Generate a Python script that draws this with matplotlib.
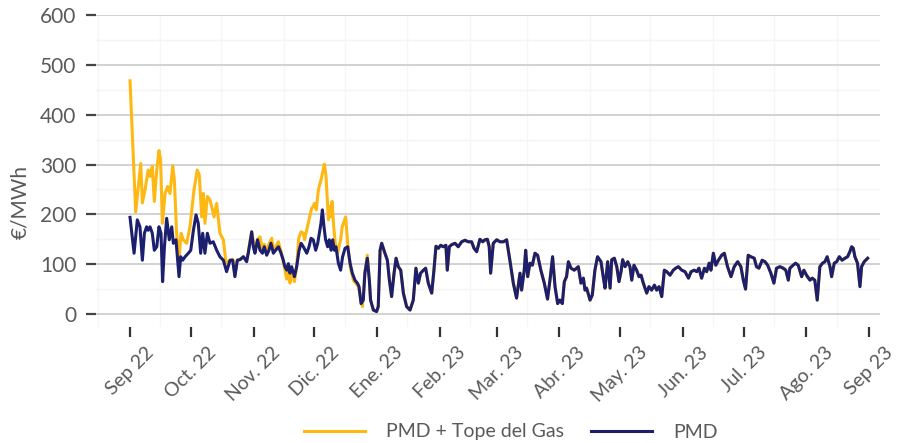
import matplotlib
matplotlib.use("Agg")
import matplotlib.pyplot as plt
import matplotlib.dates as mdates
import pandas as pd

# ---------------- data (days since 2022-09-01, €/MWh) ----------------
start_date = "2022-09-01"

pmd_days = [0, 2.0, 3.6, 4.9, 6.1, 7.1, 8.2, 9.0, 9.9, 11.0, 12.0, 13.2, 14.3, 15.3, 16.1, 17.0,
            18.1, 19.4, 20.6, 21.4, 22.7, 24.2, 25.0, 26.0, 27.2, 28.8, 30.0, 31.3, 32.6, 33.7,
            34.9, 35.9, 37.0, 38.2, 39.5, 41.1, 42.8, 44.4, 46.1, 47.7, 49.4, 50.7, 51.8, 53.0,
            54.3, 56.0, 57.6, 58.4, 60.1, 60.9, 61.7, 63.0, 64.2, 65.4, 66.3, 67.5, 68.6, 69.6,
            70.8, 71.9, 73.3, 74.6, 75.7, 76.5, 77.4, 78.2, 79.0, 79.8, 81.2, 82.3, 83.5, 84.5,
            85.6, 87.3, 88.4, 89.4, 90.5, 91.7, 92.7, 93.5, 94.3, 95.0, 95.8, 96.6, 97.6, 98.4,
            99.3, 100.1, 100.9, 101.7, 102.9, 104.0, 105.0, 106.2, 107.5, 108.7, 109.8, 111.1,
            112.3, 113.1, 114.1, 115.2, 116.0, 117.2, 118.2, 118.8, 120.2, 121.8, 122.6, 123.5,
            124.3, 125.9, 127.1, 128.1, 129.2, 130.4, 131.4, 132.5, 133.7, 135.0, 136.6, 138.3,
            139.9, 141.2, 142.4, 143.5, 144.9, 146.0, 147.3, 149.0, 150.1, 151.1, 152.3, 153.4,
            154.7, 156.0, 156.7, 157.7, 158.8, 160.5, 162.1, 163.8, 165.4, 167.1, 168.7, 169.9,
            171.2, 172.8, 174.2, 175.3, 176.5, 177.4, 178.1, 179.4, 181.1, 182.7, 184.4, 186.0,
            187.6, 189.3, 190.9, 192.6, 193.4, 194.7, 195.4, 196.4, 197.5, 198.7, 200.0, 201.3,
            202.9, 204.6, 206.2, 207.4, 208.7, 209.9, 211.2, 212.3, 213.5, 214.5, 215.6, 216.5,
            217.8, 219.4, 221.4, 222.7, 223.9, 224.7, 225.5, 227.2, 228.3, 229.6, 230.9, 232.6,
            233.7, 234.6, 235.9, 237.1, 237.9, 239.2, 240.4, 241.5, 242.5, 243.3, 244.5, 245.8,
            246.9, 247.8, 248.9, 250.2, 251.4, 252.4, 253.5, 255.2, 256.3, 257.6, 259.0, 260.1,
            261.3, 262.6, 263.9, 265.1, 266.7, 268.3, 269.5, 270.8, 272.5, 274.1, 275.8, 277.1,
            278.7, 279.9, 281.0, 282.3, 283.7, 284.8, 286.0, 286.9, 288.1, 289.3, 290.6, 292.2,
            293.5, 295.1, 296.8, 298.4, 300.1, 301.7, 302.9, 304.0, 305.3, 306.6, 308.3, 309.4,
            310.6, 312.2, 313.6, 314.9, 316.5, 318.0, 319.3, 321.0, 322.6, 323.9, 325.1, 325.9,
            327.5, 328.7, 330.0, 331.7, 332.8, 334.1, 335.8, 336.9, 338.2, 339.4, 340.7, 342.0,
            343.2, 344.3, 345.7, 346.5, 347.8, 349.0, 350.3, 351.7, 353.1, 354.4, 355.5, 356.4,
            357.2, 358.0, 359.3, 360.5, 361.3, 362.6, 364.3]
pmd_vals = [194, 122, 189, 175, 108, 162, 175, 168, 175, 162, 128, 135, 175, 162, 65, 135,
            192, 149, 175, 142, 149, 75, 115, 108, 115, 122, 128, 168, 199, 182,
            122, 162, 122, 162, 142, 145, 128, 115, 108, 85, 108, 108, 75, 108,
            109, 115, 105, 122, 165, 135, 122, 149, 128, 122, 135, 118, 128, 142,
            122, 128, 135, 122, 108, 95, 88, 101, 82, 95, 75, 95, 128, 142,
            135, 122, 135, 152, 149, 128, 142, 162, 182, 209, 175, 149, 135, 149,
            128, 149, 128, 135, 102, 88, 115, 132, 135, 102, 82, 68,
            62, 55, 21, 28, 82, 112, 68, 28, 8, 5, 15, 128,
            142, 122, 108, 68, 35, 82, 112, 95, 88, 42, 15, 8,
            28, 92, 62, 82, 88, 92, 62, 42, 88, 136, 132, 138,
            135, 138, 88, 135, 139, 142, 135, 145, 148, 145, 145, 132,
            125, 150, 145, 149, 150, 135, 82, 142, 149, 145, 145, 149,
            108, 62, 32, 82, 48, 88, 128, 75, 102, 98, 122, 118,
            88, 62, 30, 68, 115, 55, 21, 28, 21, 65, 75, 105,
            92, 88, 95, 62, 72, 48, 52, 28, 38, 88, 115, 105,
            75, 52, 105, 52, 109, 112, 95, 65, 85, 109, 95, 105,
            95, 68, 98, 88, 75, 78, 62, 42, 55, 48, 58, 48,
            55, 35, 88, 85, 78, 88, 92, 95, 88, 85, 72, 85,
            88, 85, 92, 72, 92, 85, 102, 88, 122, 98, 108, 118,
            122, 95, 75, 95, 105, 95, 68, 50, 118, 115, 112, 95,
            92, 108, 105, 98, 82, 62, 92, 95, 92, 88, 68, 92,
            98, 102, 98, 75, 88, 78, 68, 72, 68, 28, 95, 102,
            105, 115, 95, 75, 102, 105, 115, 108, 112, 115, 125, 135,
            132, 115, 102, 55, 95, 105, 112]

# PMD + Tope del Gas while it differs from PMD (afterwards both coincide)
gas_days = [0, 2.8, 5.3, 6.1, 7.4, 9.0, 9.9, 11.0, 12.0, 13.2, 14.3, 15.1, 16.0, 17.3, 18.6,
            19.75, 21.1, 21.9, 23.0, 24.2, 25.2, 26.3, 28.0, 29.6, 31.6, 33.2, 34.2, 35.4,
            36.2, 37.0, 38.2, 39.5, 40.3, 41.5, 42.8, 44.4, 46.1, 47.4, 49.4, 50.7, 51.8,
            53.0, 54.3, 56.0, 57.6, 58.4, 60.1, 61.7, 63.0, 64.2, 65.4, 66.3, 67.5, 68.6,
            70.0, 70.8, 71.9, 73.3, 74.6, 75.7, 77.4, 78.2, 79.0, 79.8, 81.2, 82.3, 83.3,
            84.5, 85.6, 86.2, 88.0, 89.7, 90.5, 91.1, 92.0, 93.0, 94.5, 96.0, 96.8, 97.6,
            98.0, 98.6, 99.2, 99.8, 100.6, 101.4, 102.5, 104.0, 104.8, 106.5, 107.5, 108.7,
            110.3, 112.8, 114.8, 116.0, 117.2]
gas_vals = [468, 205, 302, 223, 249, 289, 276, 296, 226, 289, 328, 309, 182, 242, 256,
            242, 297, 269, 162, 108, 162, 149, 142, 175, 249, 289, 279, 195,
            242, 182, 236, 229, 216, 195, 222, 162, 149, 102, 108, 110, 78,
            108, 110, 115, 108, 125, 165, 130, 150, 155, 128, 140, 125, 140,
            152, 128, 135, 145, 125, 105, 70, 100, 62, 90, 65, 95, 152,
            165, 162, 149, 182, 212, 216, 222, 209, 249, 272, 301, 276, 216,
            189, 216, 195, 226, 175, 142, 122, 149, 175, 195, 142, 95,
            68, 55, 15, 85, 118]

tick_labels = ["Sep 22", "Oct. 22", "Nov. 22", "Dic. 22", "Ene. 23", "Feb. 23", "Mar. 23",
               "Abr. 23", "May. 23", "Jun. 23", "Jul. 23", "Ago. 23", "Sep 23"]
series_names = ["PMD + Tope del Gas", "PMD"]

# ---------------- build series ----------------
t0 = pd.Timestamp(start_date)
pmd_dates = t0 + pd.to_timedelta(pmd_days, unit="D")
last_gas = gas_days[-1]
tail = [(d, v) for d, v in zip(pmd_days, pmd_vals) if d > last_gas]
orange_days = gas_days + [d for d, _ in tail]
orange_vals = gas_vals + [v for _, v in tail]
orange_dates = t0 + pd.to_timedelta(orange_days, unit="D")

ORANGE = "#FDB813"
NAVY = "#1C1E6E"
TXT = "#5a5a5a"

plt.rcParams["font.family"] = ["Lato", "DejaVu Sans"]

fig = plt.figure(figsize=(9.02, 4.43), dpi=100)
W, H = 902, 443
ax = fig.add_axes([96 / W, (H - 327) / H, (880 - 96) / W, (327 - 15) / H])

ax.plot(orange_dates, orange_vals, color=ORANGE, lw=2.2, label=series_names[0], zorder=3,
        solid_joinstyle="round")
ax.plot(pmd_dates, pmd_vals, color=NAVY, lw=2.2, label=series_names[1], zorder=4,
        solid_joinstyle="round")

ax.set_xlim(t0 - pd.Timedelta(days=16.8), t0 + pd.Timedelta(days=370.4))
ax.set_ylim(-26, 600)

# y axis
ax.set_yticks(range(0, 601, 100))
ax.set_yticks(range(50, 600, 100), minor=True)
ax.grid(axis="y", which="major", color="#cfcfcf", lw=1.3, zorder=0)
ax.grid(axis="y", which="minor", color="#f4f4f4", lw=1.0, zorder=0)
ax.tick_params(axis="y", which="major", direction="out", length=7, width=1.6,
               color="#444444", labelsize=15, labelcolor=TXT, pad=7)
ax.tick_params(axis="y", which="minor", length=0)

# x axis
month_ticks = pd.date_range("2022-09-01", "2023-09-01", freq="MS")
ax.set_xticks(month_ticks)
ax.set_xticklabels(tick_labels, rotation=45, ha="center", va="top")
ax.xaxis.set_minor_locator(mdates.MonthLocator(bymonthday=16))
ax.grid(axis="x", which="minor", color="#f6f6f6", lw=1.0, zorder=0)
ax.tick_params(axis="x", which="major", direction="out", length=7, width=1.6,
               color="#333333", labelsize=14, labelcolor=TXT, pad=5)
ax.tick_params(axis="x", which="minor", length=0)

for s in ax.spines.values():
    s.set_visible(False)

fig.text(20 / W, 1 - 202 / H, "€/MWh", rotation=90, ha="center", va="center",
         fontsize=15, color=TXT)

leg = fig.legend(loc="center", bbox_to_anchor=(511 / W, 1 - 432 / H), ncol=2,
                 frameon=False, fontsize=14, handlelength=3.1, handletextpad=1.1,
                 columnspacing=1.4, borderaxespad=0)
for t in leg.get_texts():
    t.set_color(TXT)

fig.savefig("out.png", dpi=100)
